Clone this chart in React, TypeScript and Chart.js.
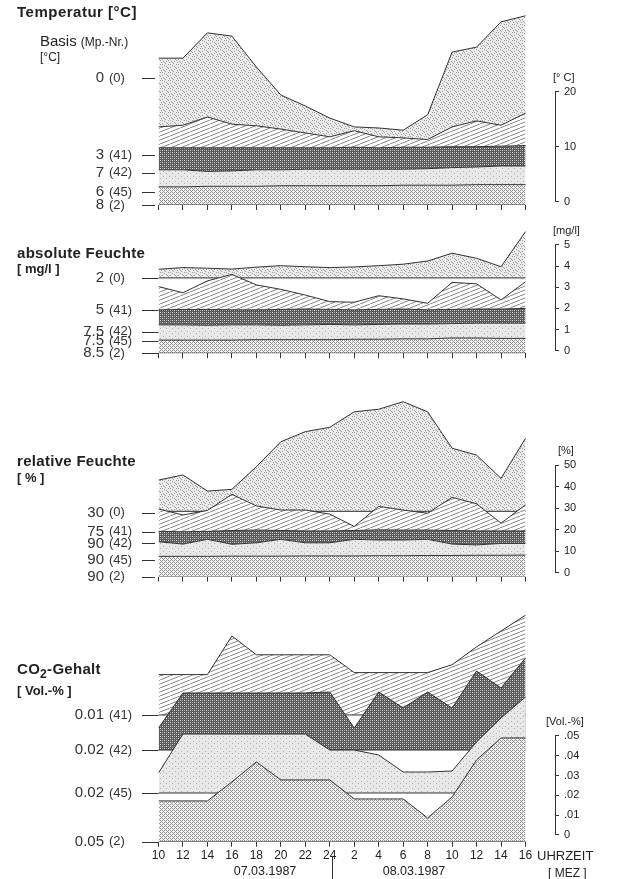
import React, { useEffect, useRef } from 'react';
import { Chart, registerables } from 'chart.js';

Chart.register(...registerables);

const FONT = '"Liberation Sans", Arial, Helvetica, sans-serif';
Chart.defaults.font.family = FONT;
Chart.defaults.color = '#222';

// ---------- shared time axis ----------
const HOURS = ['10', '12', '14', '16', '18', '20', '22', '24', '2', '4', '6', '8', '10', '12', '14', '16'];

// ---------- Temperatur [°C] (values read on the right-hand scale) ----------
const T_TOP = [26.1, 26.1, 30.7, 30.1, 24.5, 19.4, 17.4, 15.2, 13.6, 13.4, 13.0, 15.8, 27.2, 28.1, 32.7, 33.8];
const T_HATCH = [13.6, 13.9, 15.4, 14.1, 13.8, 13.2, 12.5, 11.8, 12.9, 11.8, 11.6, 11.3, 13.6, 14.7, 13.9, 16.1];
const T_DARK = [9.8, 9.8, 9.8, 9.8, 9.8, 9.8, 9.8, 9.8, 9.9, 9.8, 9.9, 9.9, 10.0, 10.0, 10.1, 10.2];
const T_LIGHT = [5.8, 5.8, 5.5, 5.6, 5.8, 5.8, 5.9, 5.9, 5.9, 5.9, 5.9, 6.0, 6.2, 6.3, 6.5, 6.5];
const T_DOT = [2.7, 2.7, 2.8, 2.8, 2.8, 2.9, 2.9, 2.9, 2.9, 2.9, 3.0, 3.0, 3.0, 3.1, 3.1, 3.1];
const T_BASE = -0.6;
const T_TICKS = [0, 10, 20];
const T_TICK_LABELS = ['0', '10', '20'];
const T_BASIS_NUM = ['0', '3', '7', '6', '8'];
const T_BASIS_MP = ['(0)', '(41)', '(42)', '(45)', '(2)'];
const T_BASIS_AT = [22.5, 8.5, 5.3, 1.75, -0.6];

// ---------- absolute Feuchte [mg/l] ----------
const A_TOP = [3.85, 3.93, 3.9, 3.86, 3.95, 4.02, 3.97, 3.93, 3.96, 4.02, 4.09, 4.24, 4.61, 4.37, 3.97, 5.63];
const A_TOP_BASE = 3.44;
const A_HATCH = [3.03, 2.74, 3.3, 3.61, 3.11, 2.9, 2.63, 2.32, 2.29, 2.6, 2.45, 2.24, 3.23, 3.16, 2.4, 3.26];
const A_DARK = [1.93, 1.95, 1.95, 1.93, 1.93, 1.95, 1.97, 1.95, 1.93, 1.95, 1.97, 1.93, 1.95, 1.97, 1.97, 2.0];
const A_LIGHT = [1.22, 1.22, 1.2, 1.22, 1.22, 1.2, 1.22, 1.24, 1.22, 1.24, 1.26, 1.26, 1.28, 1.3, 1.3, 1.3];
const A_DOT = [0.5, 0.5, 0.5, 0.5, 0.52, 0.52, 0.52, 0.52, 0.54, 0.54, 0.56, 0.56, 0.6, 0.6, 0.58, 0.58];
const A_BASE = -0.12;
const A_TICKS = [0, 1, 2, 3, 4, 5];
const A_TICK_LABELS = ['0', '1', '2', '3', '4', '5'];
const A_BASIS_NUM = ['2', '5', '7.5', '7.5', '8.5'];
const A_BASIS_MP = ['(0)', '(41)', '(42)', '(45)', '(2)'];
const A_BASIS_AT = [3.44, 1.92, 0.9, 0.46, -0.12];

// ---------- relative Feuchte [%] ----------
const R_TOP = [43.0, 45.4, 37.9, 38.7, 49.2, 60.8, 65.5, 67.5, 74.7, 75.9, 79.4, 74.7, 57.8, 54.6, 43.8, 62.4];
const R_TOP_BASE = 28.5;
const R_HATCH = [29.6, 26.8, 28.9, 36.4, 31.0, 29.1, 29.1, 27.2, 21.5, 30.8, 29.1, 27.6, 35.0, 32.0, 23.0, 31.5];
const R_DARK = [19.2, 19.0, 19.2, 19.6, 19.8, 19.6, 19.4, 19.4, 19.6, 19.9, 19.8, 19.8, 19.6, 19.4, 19.4, 19.4];
const R_LIGHT = [14.4, 13.3, 15.5, 13.2, 13.9, 15.5, 13.9, 13.9, 15.5, 15.2, 15.2, 15.5, 13.3, 12.9, 13.6, 13.6];
const R_DOT = [7.6, 7.6, 7.6, 7.7, 7.7, 7.7, 7.8, 7.8, 7.8, 7.9, 7.9, 8.0, 8.0, 8.1, 8.1, 8.2];
const R_BASE = -1.8;
const R_TICKS = [0, 10, 20, 30, 40, 50];
const R_TICK_LABELS = ['0', '10', '20', '30', '40', '50'];
const R_BASIS_NUM = ['30', '75', '90', '90', '90'];
const R_BASIS_MP = ['(0)', '(41)', '(42)', '(45)', '(2)'];
const R_BASIS_AT = [27.8, 19.0, 13.6, 5.9, -1.8];

// ---------- CO2-Gehalt [Vol.-%] ----------
const C_HATCH = [0.081, 0.081, 0.081, 0.1005, 0.091, 0.091, 0.091, 0.091, 0.082, 0.082, 0.082, 0.082, 0.086, 0.095, 0.103, 0.111];
const C_HATCH_BASE = 0.0606;
const C_DARK = [0.054, 0.0717, 0.0717, 0.0717, 0.0717, 0.0717, 0.0717, 0.0722, 0.054, 0.0722, 0.0641, 0.0722, 0.0641, 0.0828, 0.0742, 0.0894];
const C_DARK_BASE = 0.0429;
const C_LIGHT = [0.0313, 0.051, 0.051, 0.051, 0.051, 0.051, 0.051, 0.0429, 0.0429, 0.0404, 0.0318, 0.0318, 0.0323, 0.047, 0.0591, 0.0697];
const C_LIGHT_BASE = 0.0212;
const C_DOT = [0.0172, 0.0172, 0.0172, 0.0268, 0.0369, 0.0278, 0.0278, 0.0278, 0.0182, 0.0182, 0.0182, 0.0086, 0.0192, 0.0379, 0.049, 0.049];
const C_BASE = -0.0034;
const C_TICKS = [0, 0.01, 0.02, 0.03, 0.04, 0.05];
const C_TICK_LABELS = ['0', '.01', '.02', '.03', '.04', '.05'];
const C_BASIS_NUM = ['0.01', '0.02', '0.02', '0.05'];
const C_BASIS_MP = ['(41)', '(42)', '(45)', '(2)'];
const C_BASIS_AT = [0.0606, 0.0429, 0.0212, -0.0034];

// ---------- layout ----------
const PAGE_W = 626;
const PAGE_H = 879;
const PLOT_LEFT = 158.5;
const PLOT_LAST = 525.5;
const AXIS_X = 555;
const X_MAX = ((HOURS.length - 1) * (AXIS_X - PLOT_LEFT)) / (PLOT_LAST - PLOT_LEFT);
const X_AXIS_H = 24;
const INK = '#333';

type Patterns = { stipple: CanvasPattern; hatch: CanvasPattern; dark: CanvasPattern; light: CanvasPattern; dot: CanvasPattern };

function makePattern(w: number, h: number, paint: (g: CanvasRenderingContext2D) => void): CanvasPattern {
  const c = document.createElement('canvas');
  c.width = w;
  c.height = h;
  const g = c.getContext('2d') as CanvasRenderingContext2D;
  paint(g);
  return g.createPattern(c, 'repeat') as CanvasPattern;
}

function dots(g: CanvasRenderingContext2D, color: string, list: number[][]) {
  g.fillStyle = color;
  list.forEach(([x, y]) => g.fillRect(x, y, 1, 1));
}

function buildPatterns(): Patterns {
  const stipple = makePattern(8, 8, (g) => {
    g.fillStyle = '#ebebeb';
    g.fillRect(0, 0, 8, 8);
    dots(g, '#a0a0a0', [[0, 0], [4, 1], [7, 3], [2, 3], [6, 5], [1, 6], [5, 7], [3, 5], [2, 0], [6, 2], [0, 4], [4, 6]]);
  });
  const hatch = makePattern(10, 4, (g) => {
    g.fillStyle = '#ffffff';
    g.fillRect(0, 0, 10, 4);
    g.strokeStyle = '#707070';
    g.lineWidth = 0.85;
    for (const off of [-10, 0, 10]) {
      g.beginPath();
      g.moveTo(off, 4);
      g.lineTo(off + 10, 0);
      g.stroke();
    }
  });
  const dark = makePattern(4, 4, (g) => {
    g.fillStyle = '#5a5a5a';
    g.fillRect(0, 0, 4, 4);
    dots(g, '#d6d6d6', [[0, 0], [2, 2]]);
    dots(g, '#a8a8a8', [[0, 2], [2, 0]]);
  });
  const light = makePattern(6, 5, (g) => {
    g.fillStyle = '#e8e8e8';
    g.fillRect(0, 0, 6, 5);
    dots(g, '#b0b0b0', [[1, 1], [4, 3]]);
  });
  const dot = makePattern(4, 4, (g) => {
    g.fillStyle = '#f3f3f3';
    g.fillRect(0, 0, 4, 4);
    dots(g, '#959595', [[0, 0], [1, 1], [2, 2], [3, 3], [0, 2], [2, 0]]);
  });
  return { stipple, hatch, dark, light, dot };
}

const pts = (arr: number[]) => arr.map((v, i) => ({ x: i, y: v }));
const flat = (v: number) => HOURS.map((_, i) => ({ x: i, y: v }));

function ds(data: any[], fill: any, bg: any, order: number) {
  return {
    data,
    fill,
    backgroundColor: bg ?? 'rgba(0,0,0,0)',
    borderColor: INK,
    borderWidth: 1,
    pointRadius: 0,
    pointHoverRadius: 0,
    tension: 0,
    order,
  };
}

interface PanelCfg {
  top: number;
  bottom: number;
  min: number;
  max: number;
  ticks: number[];
  tickLabels: string[];
  unit: string;
  unitDx: number;
  basisNum: string[];
  basisMp: string[];
  basisAt: number[];
  dashToPlot: boolean;
  showHours: boolean;
  datasets: (p: Patterns) => any[];
}

const PANELS: PanelCfg[] = [
  {
    top: 12, bottom: 205, min: T_BASE, max: 34.49,
    ticks: T_TICKS, tickLabels: T_TICK_LABELS, unit: '[° C]', unitDx: -2,
    basisNum: T_BASIS_NUM, basisMp: T_BASIS_MP, basisAt: T_BASIS_AT,
    dashToPlot: false, showHours: false,
    datasets: (P) => [
      ds(pts(T_TOP), 1, P.stipple, 5),
      ds(pts(T_HATCH), 2, P.hatch, 4),
      ds(pts(T_DARK), 3, P.dark, 3),
      ds(pts(T_LIGHT), 4, P.light, 2),
      ds(pts(T_DOT), { value: T_BASE }, P.dot, 1),
      ds(flat(T_BASE), false, null, 0),
    ],
  },
  {
    top: 225, bottom: 353.2, min: A_BASE, max: 5.944,
    ticks: A_TICKS, tickLabels: A_TICK_LABELS, unit: '[mg/l]', unitDx: -2,
    basisNum: A_BASIS_NUM, basisMp: A_BASIS_MP, basisAt: A_BASIS_AT,
    dashToPlot: true, showHours: false,
    datasets: (P) => [
      ds(pts(A_TOP), { value: A_TOP_BASE }, P.stipple, 6),
      ds(flat(A_TOP_BASE), false, null, 5.5),
      ds(pts(A_HATCH), 3, P.hatch, 5),
      ds(pts(A_DARK), 4, P.dark, 4),
      ds(pts(A_LIGHT), 5, P.light, 3),
      ds(pts(A_DOT), { value: A_BASE }, P.dot, 2),
      ds(flat(A_BASE), false, null, 1),
    ],
  },
  {
    top: 395, bottom: 576.6, min: R_BASE, max: 82.51,
    ticks: R_TICKS, tickLabels: R_TICK_LABELS, unit: '[%]', unitDx: 3,
    basisNum: R_BASIS_NUM, basisMp: R_BASIS_MP, basisAt: R_BASIS_AT,
    dashToPlot: false, showHours: false,
    datasets: (P) => [
      ds(pts(R_TOP), { value: R_TOP_BASE }, P.stipple, 6),
      ds(flat(R_TOP_BASE), false, null, 5.5),
      ds(pts(R_HATCH), 3, P.hatch, 5),
      ds(pts(R_DARK), 4, P.dark, 4),
      ds(pts(R_LIGHT), 5, P.light, 3),
      ds(pts(R_DOT), { value: R_BASE }, P.dot, 2),
      ds(flat(R_BASE), false, null, 1),
    ],
  },
  {
    top: 608, bottom: 841.7, min: C_BASE, max: 0.11463,
    ticks: C_TICKS, tickLabels: C_TICK_LABELS, unit: '[Vol.-%]', unitDx: -9,
    basisNum: C_BASIS_NUM, basisMp: C_BASIS_MP, basisAt: C_BASIS_AT,
    dashToPlot: true, showHours: true,
    datasets: (P) => [
      ds(pts(C_HATCH), { value: C_HATCH_BASE }, P.hatch, 8),
      ds(flat(C_HATCH_BASE), false, null, 7.5),
      ds(pts(C_DARK), { value: C_DARK_BASE }, P.dark, 7),
      ds(flat(C_DARK_BASE), false, null, 6.5),
      ds(pts(C_LIGHT), { value: C_LIGHT_BASE }, P.light, 6),
      ds(flat(C_LIGHT_BASE), false, null, 5.5),
      ds(pts(C_DOT), { value: C_BASE }, P.dot, 5),
      ds(flat(C_BASE), false, null, 4.5),
    ],
  },
];

function Panel({ cfg }: { cfg: PanelCfg }) {
  const ref = useRef<HTMLCanvasElement>(null);
  useEffect(() => {
    const canvas = ref.current as HTMLCanvasElement;
    const P = buildPatterns();
    const decor = {
      id: 'decor',
      afterDraw(chart: any) {
        const { ctx, chartArea, scales } = chart;
        const y = scales.y;
        const yTop = y.getPixelForValue(cfg.ticks[cfg.ticks.length - 1]);
        const yBot = y.getPixelForValue(cfg.ticks[0]);
        ctx.save();
        ctx.strokeStyle = INK;
        ctx.lineWidth = 1;
        const ax = Math.round(chartArea.right) + 0.5;
        ctx.beginPath();
        ctx.moveTo(ax, yTop);
        ctx.lineTo(ax, yBot);
        ctx.stroke();
        ctx.fillStyle = '#222';
        ctx.textBaseline = 'middle';
        ctx.textAlign = 'left';
        ctx.font = `11px ${FONT}`;
        ctx.fillText(cfg.unit, chartArea.right + cfg.unitDx, yTop - 14);
        cfg.basisAt.forEach((v, i) => {
          const py = y.getPixelForValue(v);
          ctx.font = `15px ${FONT}`;
          ctx.textAlign = 'right';
          ctx.fillStyle = '#333';
          ctx.fillText(cfg.basisNum[i], 104, py);
          ctx.font = `13px ${FONT}`;
          ctx.textAlign = 'left';
          ctx.fillText(cfg.basisMp[i], 109, py);
          const ly = Math.round(py) + 0.5;
          ctx.beginPath();
          ctx.moveTo(142, ly);
          ctx.lineTo(cfg.dashToPlot ? chartArea.left : 155, ly);
          ctx.stroke();
        });
        ctx.restore();
      },
    };
    const chart = new Chart(canvas, {
      type: 'line',
      data: { datasets: cfg.datasets(P) },
      options: {
        animation: false,
        responsive: false,
        devicePixelRatio: 1,
        events: [],
        layout: {
          padding: { left: PLOT_LEFT, right: 0, top: cfg.top, bottom: PAGE_H - cfg.bottom - X_AXIS_H },
        },
        plugins: {
          legend: { display: false },
          tooltip: { enabled: false },
          filler: { propagate: false },
        },
        scales: {
          x: {
            type: 'linear',
            position: 'bottom',
            min: 0,
            max: X_MAX,
            afterBuildTicks: (s: any) => {
              s.ticks = HOURS.map((_, i) => ({ value: i }));
            },
            afterFit: (s: any) => {
              s.height = X_AXIS_H;
              s.paddingLeft = 0;
              s.paddingRight = 0;
            },
            grid: { drawOnChartArea: false, drawTicks: true, tickLength: 5, color: INK, lineWidth: 1 },
            border: { display: false },
            ticks: {
              display: cfg.showHours,
              autoSkip: false,
              maxRotation: 0,
              padding: 2,
              font: { size: 12 },
              color: '#222',
              callback: (_v: any, i: number) => HOURS[i],
            },
          },
          y: {
            type: 'linear',
            position: 'right',
            min: cfg.min,
            max: cfg.max,
            afterBuildTicks: (s: any) => {
              s.ticks = cfg.ticks.map((v) => ({ value: v }));
            },
            afterFit: (s: any) => {
              s.width = PAGE_W - AXIS_X;
              s.paddingTop = 0;
              s.paddingBottom = 0;
            },
            grid: { drawOnChartArea: false, drawTicks: true, tickLength: 4, color: INK, lineWidth: 1 },
            border: { display: false },
            ticks: {
              padding: 5,
              font: { size: 11 },
              color: '#222',
              callback: (_v: any, i: number) => cfg.tickLabels[i],
            },
          },
        },
      } as any,
      plugins: [decor],
    });
    return () => chart.destroy();
  }, []);
  return (
    <canvas
      ref={ref}
      width={PAGE_W}
      height={PAGE_H}
      style={{ position: 'absolute', left: 0, top: 0, width: PAGE_W, height: PAGE_H }}
    />
  );
}

function Txt({ x, y, size, bold, children, center, spacing }: any) {
  return (
    <div
      style={{
        position: 'absolute',
        left: x,
        top: y,
        fontFamily: FONT,
        fontSize: size,
        fontWeight: bold ? 'bold' : 'normal',
        letterSpacing: spacing ?? 0,
        lineHeight: 1,
        whiteSpace: 'nowrap',
        color: '#222',
        transform: center ? 'translateX(-50%)' : undefined,
      }}
    >
      {children}
    </div>
  );
}

export default function App() {
  return (
    <div
      style={{
        position: 'fixed',
        left: 0,
        top: 0,
        width: PAGE_W,
        height: PAGE_H,
        background: '#fff',
        overflow: 'hidden',
      }}
    >
      {PANELS.map((cfg, i) => (
        <Panel key={i} cfg={cfg} />
      ))}
      <Txt x={17} y={4} size={15} bold spacing={0.5}>Temperatur [°C]</Txt>
      <Txt x={40} y={33} size={15}>
        Basis <span style={{ fontSize: 12 }}>(Mp.-Nr.)</span>
      </Txt>
      <Txt x={40} y={51} size={12}>[°C]</Txt>
      <Txt x={17} y={245} size={15} bold spacing={0.3}>absolute Feuchte</Txt>
      <Txt x={17} y={262} size={13} bold>[ mg/l ]</Txt>
      <Txt x={17} y={453} size={15} bold spacing={0.3}>relative Feuchte</Txt>
      <Txt x={17} y={471} size={13} bold>[ % ]</Txt>
      <Txt x={17} y={661} size={15} bold spacing={0.3}>
        CO<sub style={{ fontSize: 12, verticalAlign: -4 }}>2</sub>-Gehalt
      </Txt>
      <Txt x={17} y={684} size={13} bold>[ Vol.-% ]</Txt>
      <Txt x={537} y={849} size={13}>UHRZEIT</Txt>
      <Txt x={548} y={867} size={12}>[ MEZ ]</Txt>
      <Txt x={265} y={865} size={12.5} center>07.03.1987</Txt>
      <Txt x={414} y={865} size={12.5} center>08.03.1987</Txt>
      <div style={{ position: 'absolute', left: 332, top: 856, width: 1, height: 23, background: INK }} />
    </div>
  );
}
